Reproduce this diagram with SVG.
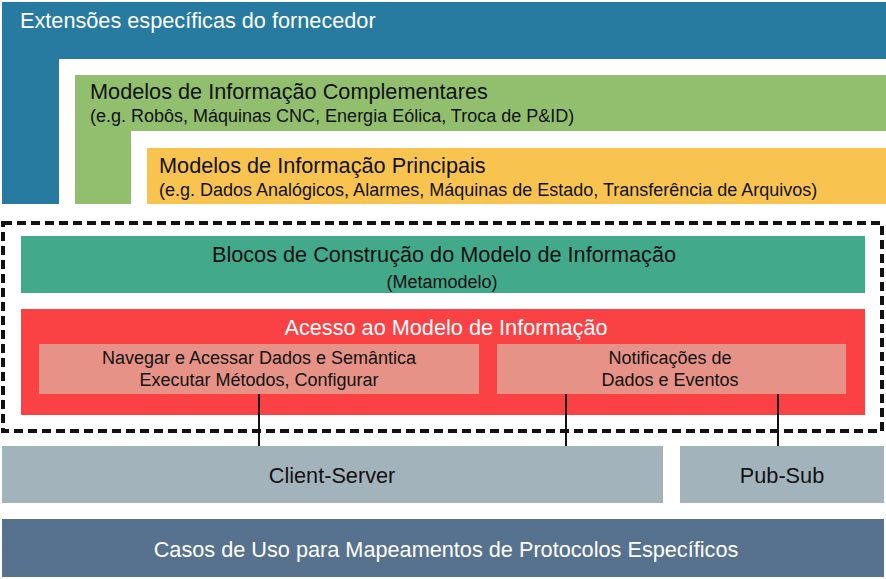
<svg xmlns="http://www.w3.org/2000/svg" width="886" height="579" viewBox="0 0 886 579">
<style>
text{font-family:"Liberation Sans",Arial,sans-serif;}
.t20{font-size:21.7px;}
.t16{font-size:18px;}
.w{fill:#ffffff;}
.k{fill:#111111;}
.c{text-anchor:middle;}
.conn{stroke:#111111;stroke-width:2;fill:none;}
</style>
<rect width="886" height="579" fill="#ffffff"/>
<g id="vendor">
<path d="M2 2H886V59H59V204H2Z" fill="#277BA0"/>
<text class="t20 w" x="20" y="28">Extensões específicas do fornecedor</text>
</g>
<g id="companion">
<path d="M75 75H886V131H131V204H75Z" fill="#92BF6E"/>
<text class="t20 k" x="90" y="99">Modelos de Informação Complementares</text>
<text class="t16 k" x="90" y="122">(e.g. Robôs, Máquinas CNC, Energia Eólica, Troca de P&amp;ID)</text>
</g>
<g id="core">
<rect x="147" y="148" width="739" height="56" fill="#F8C44F"/>
<text class="t20 k" x="159" y="173">Modelos de Informação Principais</text>
<text class="t16 k" x="159" y="196">(e.g. Dados Analógicos, Alarmes, Máquinas de Estado, Transferência de Arquivos)</text>
</g>
<g id="dashed-frame">
<rect x="3" y="223" width="879" height="208" fill="none" stroke="#111111" stroke-width="4" stroke-dasharray="9,5"/>
</g>
<g id="building-blocks">
<rect x="21" y="236" width="844" height="57" fill="#43A98B"/>
<text class="t20 k c" x="444" y="262">Blocos de Construção do Modelo de Informação</text>
<text class="t16 k c" x="442" y="288">(Metamodelo)</text>
</g>
<g id="access">
<rect x="21" y="309" width="844" height="106" fill="#FA4245"/>
<text class="t20 w c" x="446" y="335">Acesso ao Modelo de Informação</text>
</g>
<g id="browse">
<rect x="39" y="344" width="440" height="50" fill="#E79286"/>
<text class="t16 k c" x="259" y="364">Navegar e Acessar Dados e Semântica</text>
<text class="t16 k c" x="259" y="386">Executar Métodos, Configurar</text>
</g>
<g id="notifications">
<rect x="497" y="344" width="349" height="50" fill="#E79286"/>
<text class="t16 k c" x="670" y="364">Notificações de</text>
<text class="t16 k c" x="670" y="386">Dados e Eventos</text>
</g>
<g id="connectors">
<line class="conn" x1="259" y1="394" x2="259" y2="446"/>
<line class="conn" x1="566" y1="394" x2="566" y2="446"/>
<line class="conn" x1="778" y1="394" x2="778" y2="446"/>
</g>
<g id="client-server">
<rect x="2" y="446" width="661" height="57" fill="#A3B3BB"/>
<text class="t20 k c" x="332" y="483">Client-Server</text>
</g>
<g id="pub-sub">
<rect x="680" y="446" width="204" height="57" fill="#A3B3BB"/>
<text class="t20 k c" x="782" y="483">Pub-Sub</text>
</g>
<g id="use-cases">
<rect x="2" y="519" width="882" height="58" fill="#57728E"/>
<text class="t20 w c" x="446" y="557">Casos de Uso para Mapeamentos de Protocolos Específicos</text>
</g>
</svg>
